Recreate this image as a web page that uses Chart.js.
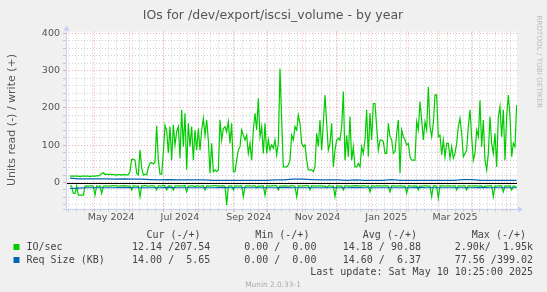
<!DOCTYPE html>
<html>
<head>
<meta charset="utf-8">
<script src="https://cdn.jsdelivr.net/npm/chart.js@4.4.1/dist/chart.umd.min.js"></script>
<style>
html,body{margin:0;padding:0;background:#F0F0F0;}
#wrap{width:547px;height:292px;position:relative;}
canvas{display:block;}
</style>
</head>
<body>
<div id="wrap"><canvas id="c" width="547" height="292"></canvas></div>
<script>
// ---------- DATA ----------
// time axis: days since 2024-04-05 10:25 (graph covers 400 days, ends 2025-05-10 10:25)
const monthStarts = ['2024-05-01','2024-06-01','2024-07-01','2024-08-01','2024-09-01','2024-10-01',
  '2024-11-01','2024-12-01','2025-01-01','2025-02-01','2025-03-01','2025-04-01','2025-05-01'];
const tickLabels = ['May 2024','Jul 2024','Sep 2024','Nov 2024','Jan 2025','Mar 2025'];
const tickLabelDates = ['2024-05-15','2024-07-15','2024-09-14','2024-11-14','2025-01-14','2025-03-16'];
const yTickLabels = [0,100,200,300,400];

// IO/sec, write (+), one sample every ~1.48 days
const ioWrite = [
 17,17,17,17,17,17,16,17,17,17,17,17,16,17,17,17,18,18,
 20,24,26,22,
 22,21,22,22,21,21,20,21,21,20,21,21,20,21,
 30,62,62,60,25,20,87,40,20,22,21,40,52,53,50,55,152,60,23,22,
 80,154,140,79,150,60,155,100,
 137,150,65,195,96,186,34,159,96,150,
 60,141,87,145,87,141,172,127,168,114,
 25,105,29,34,29,34,168,114,145,150,
 136,163,105,159,29,29,60,87,96,141,
 127,114,127,78,105,60,141,186,141,226,
 123,150,78,159,78,114,87,101,92,114,
 74,105,306,168,42,42,42,47,60,127,
 114,150,141,181,159,105,96,101,60,34,
 34,34,29,42,132,96,168,87,159,235,
 159,87,105,159,42,87,114,119,114,150,
 244,60,127,69,177,60,96,42,42,51,
 42,96,78,114,195,69,186,114,212,212,
 150,87,114,114,110,78,78,159,123,114,
 78,83,132,168,25,141,123,
 114,101,105,69,60,60,60,163,141,217,
 168,114,163,141,257,150,123,159,235,235,
 123,127,74,114,69,105,105,65,96,65,
 78,105,150,172,132,69,78,87,150,195,
 123,60,78,141,123,221,96,168,60,34,
 78,177,105,78,132,42,177,204,123,195,
 60,177,235,177,69,105,96,208
];
// IO/sec, read (-)
const ioRead = [
 -9,-10,-29,-29,-10,-34,-34,-34,-34,-10,-9,-10,-9,-9,-10,-34,-9,-10,-9,-29,
 -10,-9,-9,-10,-9,-9,-8,-9,-9,-10,-9,-9,-8,-9,-9,-10,-9,-20,-9,-9,
 -10,-9,-38,-9,-9,-8,-9,-10,-9,-9,-9,-12,-20,-9,-9,-10,-8,-9,-20,-9,
 -9,-10,-20,-9,-9,-9,-10,-9,-9,-8,-25,-9,-10,-9,-9,-12,-9,-9,-10,-9,
 -9,-20,-9,-9,-10,-9,-9,-8,-9,-9,-10,-9,-9,-10,-60,-10,-9,-9,-20,-9,
 -9,-10,-9,-9,-38,-10,-9,-9,-9,-10,-9,-9,-14,-9,-10,-9,-9,-34,-9,-9,
 -10,-9,-9,-8,-9,-20,-9,-10,-9,-9,-9,-10,-9,-9,-9,-10,-38,-9,-9,-10,
 -9,-9,-8,-9,-20,-9,-9,-10,-9,-9,-9,-9,-10,-9,-14,-9,-9,-10,-9,-38,
 -9,-9,-10,-9,-20,-9,-9,-9,-10,-9,-9,-9,-8,-9,-10,-9,-9,-9,-10,-9,
 -25,-9,-9,-10,-9,-9,-9,-10,-9,-9,-9,-10,-25,-9,-9,-9,-10,-9,-9,-9,
 -10,-9,-29,-9,-9,-10,-9,-9,-9,-20,-9,-10,-9,-9,-9,-10,-9,-38,-9,-9,
 -10,-42,-9,-9,-9,-10,-9,-9,-9,-10,-9,-9,-20,-9,-9,-10,-9,-9,-20,-9,
 -9,-10,-9,-9,-9,-10,-9,-9,-14,-9,-10,-9,-9,-9,-38,-9,-10,-9,-9,-9,
 -25,-9,-10,-9,-9,-20,-9,-10,-12
];
// Req Size (KB), write (+) and read (-), one sample every ~7.9 days
const reqWrite = [12,10,10,10,10,9,10,9,9,8, 7,8,7,7,7,7,6,6,6,6, 6,6,6,7,7,9,9,8,7,7,
 7,6,7,6,6,6,8,6,6,6, 6,6,6,6,8,8,6,6,6,6, 6];
const reqRead = [-16,-15,-14,-14,-14,-14,-13,-14,-14,-14, -14,-13,-14,-14,-14,-14,-14,-13,-14,-14,
 -14,-14,-14,-14,-13,-14,-14,-14,-14,-14, -14,-14,-13,-14,-14,-14,-14,-14,-14,-13,
 -14,-14,-14,-14,-14,-14,-13,-14,-14,-14, -14];

const legendRows = [
  {name:'IO/sec',         color:'#00CC00', cur:'12.14 /207.54', min:'0.00 /  0.00', avg:'14.18 / 90.88', max:'2.90k/  1.95k'},
  {name:'Req Size (KB)',  color:'#0066B3', cur:'14.00 /  5.65', min:'0.00 /  0.00', avg:'14.60 /  6.37', max:'77.56 /399.02'}
];
const lastUpdate = 'Last update: Sat May 10 10:25:00 2025';

// ---------- helpers ----------
const DAY = 86400000;
const START = Date.UTC(2024, 3, 5, 10, 25);
const dayOf = s => (Date.parse(s + 'T00:00:00Z') - START) / DAY;
const FIRST_DAY = 3.55, LAST_DAY = 399.7;
function toPoints(vals) {
  const step = (LAST_DAY - FIRST_DAY) / (vals.length - 1);
  return vals.map((v, i) => ({x: FIRST_DAY + i * step, y: v}));
}

// x ticks: weekly (Monday) minor lines, month major lines, mid-month labels
const xTicks = [];
for (let d = Date.UTC(2024, 3, 8); (d - START) / DAY < 400; d += 7 * DAY) {
  xTicks.push({v: (d - START) / DAY, kind: 'week', label: ''});
}
monthStarts.forEach(s => xTicks.push({v: dayOf(s), kind: 'month', label: ''}));
tickLabelDates.forEach((s, i) => xTicks.push({v: dayOf(s) + 0.5, kind: 'label', label: tickLabels[i]}));
xTicks.sort((a, b) => a.v - b.v);

const yTicks = [];
for (let v = -60; v <= 400; v += 20) yTicks.push(v);

const GRID_MINOR = 'rgba(150,150,150,0.45)';
const GRID_MAJOR = 'rgba(240,100,100,0.55)';
const AXIS = '#C8D0F4';
const TXT = '#555555';

const decor = {
  id: 'decor',
  beforeDraw(chart) {
    const {ctx, chartArea: a} = chart;
    ctx.save();
    ctx.fillStyle = '#F0F0F0';
    ctx.fillRect(0, 0, chart.width, chart.height);
    ctx.fillStyle = '#FFFFFF';
    ctx.fillRect(a.left, a.top, a.right - a.left, a.bottom - a.top);
    ctx.restore();
  },
  afterDatasetsDraw(chart) {
    const {ctx, chartArea: a, scales} = chart;
    const y0 = Math.round(scales.y.getPixelForValue(0)) + 0.5;
    ctx.save();
    ctx.strokeStyle = '#000000';
    ctx.lineWidth = 1;
    ctx.beginPath(); ctx.moveTo(a.left, y0); ctx.lineTo(a.right, y0); ctx.stroke();
    // axes
    const xb = Math.round(a.bottom) + 0.5, xl = Math.round(a.left) + 0.5;
    ctx.strokeStyle = AXIS; ctx.fillStyle = AXIS;
    ctx.beginPath(); ctx.moveTo(a.left - 3, xb); ctx.lineTo(a.right + 1, xb); ctx.stroke();
    ctx.beginPath(); ctx.moveTo(xl, a.bottom + 3); ctx.lineTo(xl, a.top - 1); ctx.stroke();
    ctx.beginPath(); ctx.moveTo(a.right + 1, xb - 3); ctx.lineTo(a.right + 6, xb); ctx.lineTo(a.right + 1, xb + 3); ctx.closePath(); ctx.fill();
    ctx.beginPath(); ctx.moveTo(xl - 3, a.top - 1); ctx.lineTo(xl, a.top - 6); ctx.lineTo(xl + 3, a.top - 1); ctx.closePath(); ctx.fill();
    ctx.restore();
  },
  afterDraw(chart) {
    const {ctx} = chart;
    ctx.save();
    // title
    ctx.fillStyle = TXT;
    ctx.font = '12.5px "DejaVu Sans"';
    ctx.textAlign = 'center'; ctx.textBaseline = 'alphabetic';
    ctx.fillText('IOs for /dev/export/iscsi_volume - by year', 273, 18.5);
    // y title
    ctx.save();
    ctx.translate(14.5, 120); ctx.rotate(-Math.PI / 2);
    ctx.font = '11px "DejaVu Sans"';
    ctx.fillText('Units read (-) / write (+)', 0, 0);
    ctx.restore();
    // watermark
    ctx.save();
    ctx.translate(536.5, 15.5); ctx.rotate(Math.PI / 2);
    ctx.font = '7.2px "DejaVu Sans"'; ctx.fillStyle = '#BBBBBB';
    ctx.textAlign = 'left';
    ctx.fillText('RRDTOOL / TOBI OETIKER', 0, 0);
    ctx.restore();
    // legend
    ctx.font = '10px "DejaVu Sans Mono"';
    ctx.fillStyle = '#444444';
    ctx.textBaseline = 'middle';
    ctx.textAlign = 'right';
    const hy = 235.2;
    ctx.fillText('Cur (-/+)', 200.6, hy);
    ctx.fillText('Min (-/+)', 309.4, hy);
    ctx.fillText('Avg (-/+)', 417, hy);
    ctx.fillText('Max (-/+)', 526, hy);
    legendRows.forEach((r, i) => {
      const ry = 247.4 + i * 12.9;
      ctx.fillStyle = r.color;
      ctx.fillRect(13.5, Math.round(ry) - 3, 6, 6);
      ctx.fillStyle = '#444444';
      ctx.textAlign = 'left';
      ctx.fillText(r.name, 26.5, ry);
      ctx.textAlign = 'right';
      ctx.fillText(r.cur, 210.3, ry);
      ctx.fillText(r.min, 316.4, ry);
      ctx.fillText(r.avg, 421, ry);
      ctx.fillText(r.max, 533, ry);
    });
    ctx.fillText(lastUpdate, 533, 272.9);
    ctx.textAlign = 'center';
    ctx.font = '7.4px "DejaVu Sans"';
    ctx.fillStyle = '#AAAAAA';
    ctx.fillText('Munin 2.0.33-1', 273, 284.8);
    ctx.restore();
  }
};

new Chart(document.getElementById('c'), {
  type: 'line',
  data: {
    datasets: [
      {label: 'Req Size read', data: toPoints(reqRead), borderColor: '#0066B3'},
      {label: 'Req Size write', data: toPoints(reqWrite), borderColor: '#0066B3'},
      {label: 'IO/sec read', data: toPoints(ioRead), borderColor: '#00CC00'},
      {label: 'IO/sec write', data: toPoints(ioWrite), borderColor: '#00CC00'}
    ]
  },
  options: {
    responsive: false,
    animation: false,
    devicePixelRatio: 1,
    layout: {padding: {left: 0, right: 30, top: 31.6, bottom: 60}},
    plugins: {legend: {display: false}, tooltip: {enabled: false}, title: {display: false}},
    elements: {point: {radius: 0}, line: {borderWidth: 1.2, tension: 0, fill: false}},
    scales: {
      x: {
        type: 'linear', min: 0, max: 400, bounds: 'data',
        afterBuildTicks: s => { s.ticks = xTicks.map(t => ({value: t.v})); },
        afterFit: s => { s.height = 23.4; },
        ticks: {autoSkip: false, maxRotation: 0, minRotation: 0, padding: 0, color: TXT,
                font: {family: 'DejaVu Sans', size: 9.5},
                callback: (v, i) => xTicks[i] ? xTicks[i].label : ''},
        grid: {
          lineWidth: 1, tickLength: 3, drawTicks: true,
          color: c => { const t = xTicks[c.index]; return !t || t.kind === 'label' ? 'rgba(0,0,0,0)' : (t.kind === 'month' ? GRID_MAJOR : GRID_MINOR); },
          tickColor: c => { const t = xTicks[c.index]; return !t || t.kind === 'label' ? 'rgba(0,0,0,0)' : (t.kind === 'month' ? GRID_MAJOR : GRID_MINOR); }
        },
        border: {display: false, dash: [1, 2]}
      },
      y: {
        type: 'linear', min: -70, max: 405, bounds: 'data',
        afterBuildTicks: s => { s.ticks = yTicks.map(v => ({value: v})); },
        afterFit: s => { s.width = 66; },
        ticks: {autoSkip: false, padding: 3, color: TXT,
                font: {family: 'DejaVu Sans', size: 9.5},
                callback: v => yTickLabels.includes(v) ? String(v) : ''},
        grid: {
          lineWidth: 1, tickLength: 3, drawTicks: true,
          color: c => (c.tick && c.tick.value % 100 === 0) ? GRID_MAJOR : GRID_MINOR,
          tickColor: c => (c.tick && c.tick.value % 100 === 0) ? GRID_MAJOR : GRID_MINOR
        },
        border: {display: false, dash: [1, 2]}
      }
    }
  },
  plugins: [decor]
});
</script>
</body>
</html>
